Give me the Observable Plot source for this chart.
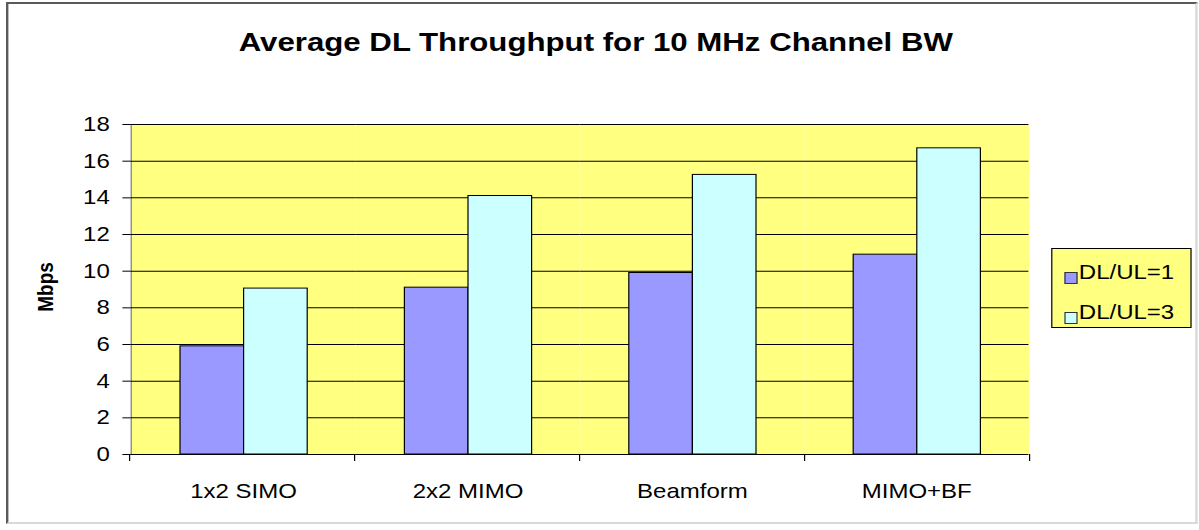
<!DOCTYPE html>
<html>
<head>
<meta charset="utf-8">
<script src="https://cdn.jsdelivr.net/npm/d3@7"></script>
<script src="https://cdn.jsdelivr.net/npm/@observablehq/plot@0.6"></script>
<style>
  html, body { margin: 0; padding: 0; background: #ffffff; overflow: hidden; }
  body { width: 1199px; height: 530px; position: relative; font-family: "Liberation Sans", Arial, sans-serif; color: #000; }
  #wrap { position: absolute; left: 0; top: 0; width: 999px; height: 530px; transform: scaleX(1.2); transform-origin: 0 0; }
  #frame { position: absolute; left: 5px; top: 2px; width: 989px; height: 518px;
           border-top: 2px solid #5a5a5a; border-left: 2px solid #5a5a5a;
           border-right: 2px solid #d9d9d9; border-bottom: 2px solid #d9d9d9; }
  #title { position: absolute; left: 0; top: 29px; width: 993px; text-align: center;
           font-size: 26px; line-height: 26px; font-weight: bold; white-space: nowrap; }
  #chart { position: absolute; left: 0; top: 100px; }
  #ylabel { position: absolute; left: 38px; top: 287px; transform: translate(-50%, -50%) rotate(-90deg);
            font-size: 19px; line-height: 19px; font-weight: bold; white-space: nowrap; }
  #legend { position: absolute; left: 876px; top: 248px; width: 115px; height: 78px;
            border: 1px solid #000; background: #ffff80; }
  .lg-row { position: absolute; left: 0; height: 20px; white-space: nowrap; font-size: 20px; line-height: 20px; }
  .lg-sw { position: absolute; left: 10px; width: 9px; height: 10px; border: 1px solid #333; }
  .lg-tx { position: absolute; left: 22px; top: 0; }
</style>
</head>
<body>
<div id="wrap">
  <div id="frame"></div>
  <div id="title">Average DL Throughput for 10 MHz Channel BW</div>
  <div id="chart"></div>
  <div id="ylabel">Mbps</div>
  <div id="legend"></div>
</div>
<script>
// ---- data ----
const categories = ["1x2 SIMO", "2x2 MIMO", "Beamform", "MIMO+BF"];
const seriesNames = ["DL/UL=1", "DL/UL=3"];
const dlul1 = [5.9, 9.1, 9.9, 10.9];
const dlul3 = [9.05, 14.1, 15.25, 16.7];
const yTicks = [0, 2, 4, 6, 8, 10, 12, 14, 16, 18];
const seriesColors = ["#9999ff", "#ccffff"];
const plotBg = "#ffff80";

const rows = categories.flatMap((c, i) => [
  {category: c, series: seriesNames[0], value: dlul1[i]},
  {category: c, series: seriesNames[1], value: dlul3[i]}
]);

const chart = Plot.plot({
  width: 870,
  height: 420,
  marginLeft: 108,
  marginRight: 12,
  marginTop: 24,
  marginBottom: 66,
  style: {fontFamily: "'Liberation Sans', Arial, sans-serif", fontSize: "20px", background: "transparent", color: "#000", overflow: "visible"},
  facet: {data: rows, x: "category"},
  fx: {domain: categories, padding: 0, axis: "bottom", label: null, tickSize: 0, tickPadding: 29},
  x: {domain: seriesNames, paddingInner: 0, paddingOuter: 0.758, axis: null},
  y: {domain: [0, 18], ticks: yTicks, tickSize: 7, tickPadding: 11, line: true, label: null},
  color: {domain: seriesNames, range: seriesColors},
  marks: [
    Plot.frame({fill: plotBg, stroke: "none"}),
    Plot.ruleY(yTicks.filter(d => d > 0), {stroke: "#000", strokeWidth: 1}),
    Plot.barY(rows, {x: "series", y: "value", fill: "series", stroke: "#000", strokeWidth: 1}),
    Plot.ruleY([0], {stroke: "#000", strokeWidth: 1})
  ]
});
document.getElementById("chart").appendChild(chart);

// category boundary tick marks below the axis, from the plot's own fx and y scales
const svg = chart.tagName.toLowerCase() === "svg" ? chart : chart.querySelector("svg");
const fxS = chart.scale("fx");
const yS = chart.scale("y");
const x0 = Math.min(...fxS.range), x1 = Math.max(...fxS.range);
const step = (x1 - x0) / categories.length;
const yBase = Math.max(...yS.range);
d3.select(svg).append("g")
  .selectAll("line")
  .data(d3.range(categories.length + 1))
  .join("line")
  .attr("x1", i => x0 + i * step)
  .attr("x2", i => x0 + i * step)
  .attr("y1", yBase)
  .attr("y2", yBase + 7)
  .attr("stroke", "#000");

// legend
const legend = document.getElementById("legend");
seriesNames.forEach((s, i) => {
  const row = document.createElement("div");
  row.className = "lg-row";
  row.style.top = (13 + i * 40) + "px";
  const sw = document.createElement("div");
  sw.className = "lg-sw";
  sw.style.top = "10px";
  sw.style.background = seriesColors[i];
  const tx = document.createElement("div");
  tx.className = "lg-tx";
  tx.textContent = s;
  row.appendChild(sw);
  row.appendChild(tx);
  legend.appendChild(row);
});
</script>
</body>
</html>
